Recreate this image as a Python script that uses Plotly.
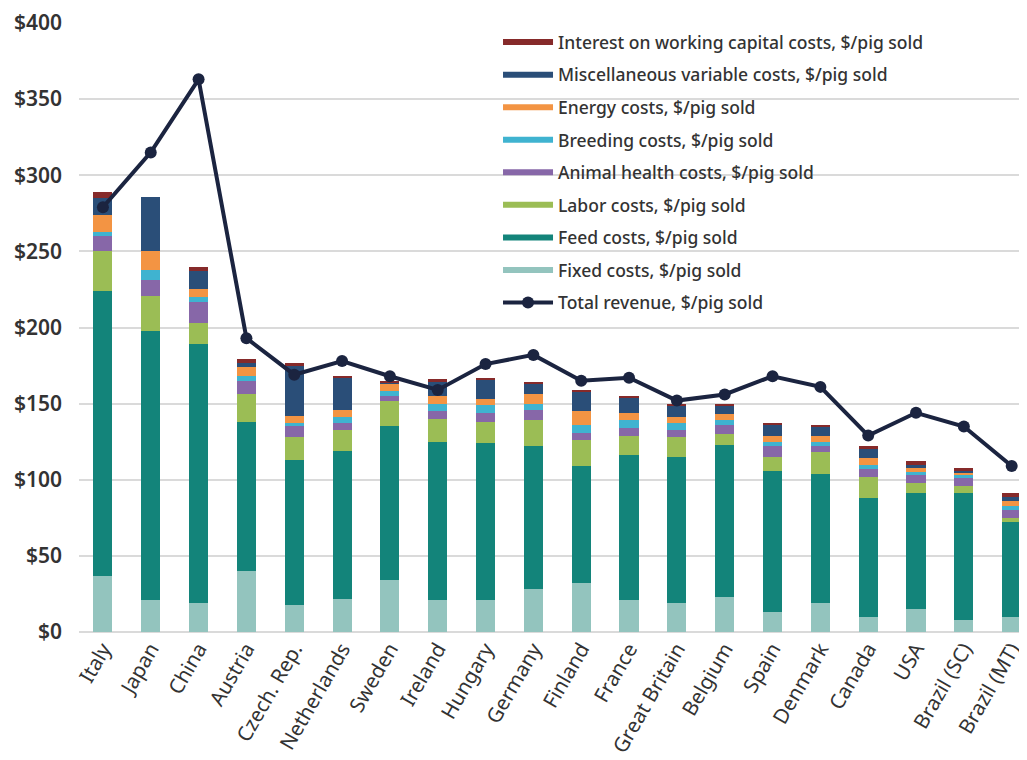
import plotly.graph_objects as go

countries = ["Italy", "Japan", "China", "Austria", "Czech. Rep.", "Netherlands", "Sweden",
             "Ireland", "Hungary", "Germany", "Finland", "France", "Great Britain", "Belgium",
             "Spain", "Denmark", "Canada", "USA", "Brazil (SC)", "Brazil (MT)"]

fixed_costs    = [37, 21, 19, 40, 18, 22, 34, 21, 21, 28, 32, 21, 19, 23, 13, 19, 10, 15, 8, 10]
feed_costs     = [187, 177, 170, 98, 95, 97, 101, 104, 103, 94, 77, 95, 96, 100, 93, 85, 78, 76, 83, 62]
labor_costs    = [26, 23, 14, 18, 15, 14, 17, 15, 14, 17, 17, 13, 13, 7, 9, 14, 14, 7, 5, 3]
health_costs   = [10, 10, 14, 9, 7, 4, 3, 5, 6, 7, 5, 5, 5, 6, 7, 4, 5, 5, 5, 5]
breeding_costs = [3, 7, 3, 3, 2, 4, 3, 5, 5, 4, 5, 5, 4, 3, 3, 3, 3, 2, 2, 3]
energy_costs   = [11, 12, 5, 6, 5, 5, 5, 5, 4, 6, 9, 5, 4, 4, 4, 4, 4, 3, 2, 3]
misc_costs     = [11, 36, 12, 3, 33, 21, 1, 9, 13, 7, 13, 10, 8, 6, 7, 6, 6, 2, 1, 3]
interest_costs = [4, 0, 3, 2, 2, 1, 1, 2, 1, 1, 1, 1, 1, 1, 1, 1, 2, 2, 2, 2]
total_revenue  = [279, 315, 363, 193, 169, 178, 168, 159, 176, 182, 165, 167, 152, 156, 168, 161, 129, 144, 135, 109]

y_ticks = [0, 50, 100, 150, 200, 250, 300, 350, 400]
y_tick_labels = ["$" + str(v) for v in y_ticks]

series = [
    ("Fixed costs, $/pig sold", fixed_costs, "#93C4BE"),
    ("Feed costs, $/pig sold", feed_costs, "#13847A"),
    ("Labor costs, $/pig sold", labor_costs, "#9BBD55"),
    ("Animal health costs, $/pig sold", health_costs, "#8767A8"),
    ("Breeding costs, $/pig sold", breeding_costs, "#3FB3D0"),
    ("Energy costs, $/pig sold", energy_costs, "#F39443"),
    ("Miscellaneous variable costs, $/pig sold", misc_costs, "#2A4E78"),
    ("Interest on working capital costs, $/pig sold", interest_costs, "#862A2A"),
]
rev_color = "#1B2440"

fig = go.Figure()
for name, vals, col in series:
    fig.add_trace(go.Bar(x=countries, y=vals, name=name, marker=dict(color=col, line=dict(width=0)),
                         showlegend=False))

# legend entries (line-style keys) in the reference's order
for i, (name, vals, col) in enumerate(reversed(series)):
    fig.add_trace(go.Scatter(x=[None], y=[None], mode="lines", name=name,
                             line=dict(color=col, width=6), legendgroup="g%d" % i,
                             hoverinfo="skip"))

fig.add_trace(go.Scatter(x=countries, y=total_revenue, mode="lines+markers",
                         name="Total revenue, $/pig sold",
                         line=dict(color=rev_color, width=4),
                         marker=dict(color=rev_color, size=12),
                         legendgroup="g99"))

fig.update_layout(
    width=1019, height=752,
    barmode="stack", bargap=0.6,
    paper_bgcolor="white", plot_bgcolor="white",
    margin=dict(l=71, r=0, t=15, b=128),
    font=dict(family="Noto Sans", color="#333333"),
    legend=dict(x=0.442, y=0.998, xanchor="left", yanchor="top",
                bgcolor="rgba(0,0,0,0)", traceorder="grouped", tracegroupgap=6.8,
                font=dict(size=17.5, color="#333333", family="Noto Sans", weight=500),
                itemwidth=50),
    xaxis=dict(range=[-0.5, 19.32], tickangle=-60, showgrid=False, ticks="",
               tickfont=dict(size=20.5, color="#333333"),
               showline=False, automargin=False),
    yaxis=dict(range=[0, 400], tickvals=y_ticks, ticktext=y_tick_labels,
               showgrid=True, gridcolor="#DADADA", gridwidth=1.5,
               zeroline=True, zerolinecolor="#DADADA", zerolinewidth=1.5,
               tickfont=dict(size=21, color="#333333", weight=600),
               ticklabelstandoff=16, fixedrange=True, automargin=False),
)

fig.write_html("out.html")
